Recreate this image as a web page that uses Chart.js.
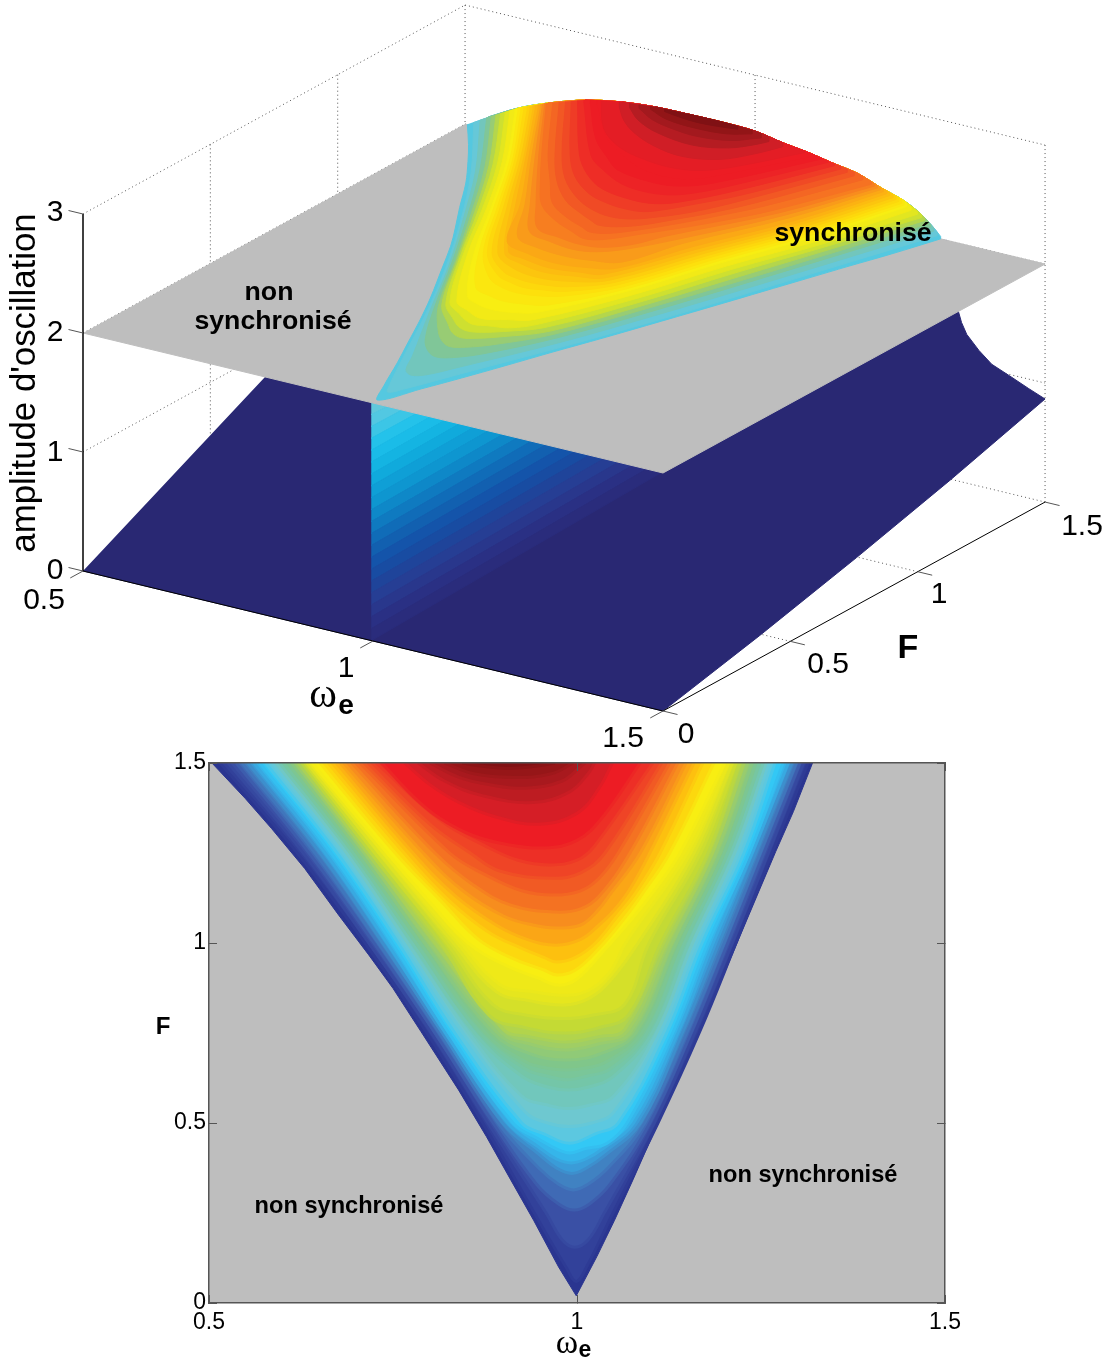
<!DOCTYPE html>
<html>
<head>
<meta charset="utf-8">
<style>
  html, body { margin: 0; padding: 0; background: #fff; }
  canvas { position: absolute; left: 0; display: block; }
  #surfaceChart { top: 0; }
  #mapChart { top: 745px; }
</style>
<script src="https://cdn.jsdelivr.net/npm/chart.js@4/dist/chart.umd.min.js"></script>
</head>
<body>
<canvas id="surfaceChart" width="1110" height="757"></canvas>
<canvas id="mapChart" width="1110" height="616"></canvas>
<script>
const omegaTicks = [0.5, 1, 1.5];
const forceTicks = [0, 0.5, 1, 1.5];
const amplitudeTicks = [0, 1, 2, 3];

// locking contours, outermost first (path: top left, down the V, top right)
const contourOmega = [
  [.504,.549,.585,.630,.676,.717,.750,.788,.839,.877,.910,.941,.975,.999,1.027,1.051,1.076,1.104,1.133,1.166,1.201,1.222,1.247,1.27,1.294,1.32],
  [.515,.620,.712,.796,.872,.942,.985,.999,1.013,1.049,1.110,1.166,1.216,1.265,1.314],
  [.526,.628,.717,.802,.879,.958,.98,.997,1.015,1.037,1.105,1.160,1.211,1.260,1.308],
  [.537,.636,.724,.807,.886,.945,.975,.996,1.017,1.045,1.099,1.155,1.205,1.254,1.303],
  [.545,.644,.730,.813,.893,.948,.975,.995,1.015,1.042,1.092,1.149,1.200,1.249,1.298],
  [.553,.651,.736,.817,.899,.95,.972,.993,1.013,1.038,1.086,1.143,1.193,1.243,1.292],
  [.561,.658,.742,.821,.906,.95,.972,.992,1.012,1.036,1.077,1.137,1.185,1.238,1.287],
  [.569,.666,.749,.826,.913,.95,.972,.990,1.01,1.041,1.068,1.130,1.178,1.234,1.280],
  [.577,.674,.757,.834,.925,.955,.990,1.025,1.056,1.122,1.170,1.227,1.269],
  [.586,.682,.765,.845,.93,.96,.989,1.02,1.05,1.113,1.162,1.219,1.261],
  [.591,.687,.770,.853,.925,.96,.988,1.018,1.05,1.108,1.157,1.214,1.257],
  [.596,.692,.776,.861,.925,.96,.988,1.016,1.05,1.102,1.152,1.209,1.253],
  [.601,.696,.781,.868,.93,.96,.987,1.013,1.045,1.095,1.146,1.205,1.248],
  [.607,.701,.787,.876,.93,.96,.986,1.01,1.04,1.088,1.141,1.200,1.243],
  [.612,.706,.793,.886,.933,.985,1.035,1.08,1.135,1.195,1.238],
  [.617,.711,.800,.898,.935,.985,1.03,1.072,1.129,1.189,1.232],
  [.621,.715,.807,.90,.935,.985,1.03,1.065,1.122,1.184,1.227],
  [.626,.720,.815,.88,.93,.984,1.03,1.07,1.114,1.178,1.221],
  [.63,.725,.823,.885,.93,.983,1.022,1.065,1.098,1.168,1.216],
  [.633,.731,.832,.89,.935,.982,1.015,1.045,1.083,1.159,1.211],
  [.637,.737,.842,.895,.94,.981,1.015,1.045,1.066,1.15,1.206],
  [.640,.742,.803,.852,.902,.947,.975,1.0,1.035,1.076,1.103,1.140,1.201],
  [.651,.753,.816,.866,.915,.955,.973,.998,1.03,1.065,1.09,1.126,1.186],
  [.662,.765,.825,.88,.925,.955,.972,.998,1.025,1.055,1.08,1.113,1.171],
  [.673,.777,.835,.89,.932,.972,1.005,1.03,1.05,1.072,1.099,1.159],
  [.683,.791,.845,.90,.94,.972,1.005,1.028,1.045,1.086,1.148],
  [.694,.807,.86,.91,.97,1.005,1.03,1.072,1.137],
  [.705,.827,.875,.925,.968,1.005,1.03,1.056,1.126],
  [.716,.80,.855,.895,.966,1.005,1.038,1.115],
  [.727,.815,.875,.92,.963,1.0,1.024,1.103],
  [.735,.776,.811,.857,.902,.955,1.0,1.035,1.086],
  [.766,.80,.84,.89,.948,1.0,1.03,1.048],
  [.784,.82,.87,.94,.99,1.015,1.024],
  [.80,.84,.88,.93,.98,1.005,1.011],
  [.82,.86,.915,.965,.995],
  [.844,.875,.905,.94,.97]
];
const contourForce = [
  [1.5,1.402,1.318,1.207,1.078,.967,.874,.754,.592,.462,.342,.23,.10,.02,.129,.23,.342,.472,.60,.754,.92,1.022,1.143,1.254,1.365,1.5],
  [1.5,1.25,1,.75,.5,.25,.1,.06,.1,.25,.5,.75,1,1.25,1.5],
  [1.5,1.25,1,.75,.5,.25,.175,.155,.175,.25,.5,.75,1,1.25,1.5],
  [1.5,1.25,1,.75,.5,.33,.275,.258,.275,.33,.5,.75,1,1.25,1.5],
  [1.5,1.25,1,.75,.5,.375,.33,.314,.33,.375,.5,.75,1,1.25,1.5],
  [1.5,1.25,1,.75,.5,.41,.375,.36,.375,.41,.5,.75,1,1.25,1.5],
  [1.5,1.25,1,.75,.5,.43,.4,.389,.4,.43,.5,.75,1,1.25,1.5],
  [1.5,1.25,1,.75,.5,.453,.428,.417,.428,.444,.5,.75,1,1.25,1.5],
  [1.5,1.25,1,.75,.5,.47,.444,.47,.5,.75,1,1.25,1.5],
  [1.5,1.25,1,.75,.53,.5,.49,.5,.53,.75,1,1.25,1.5],
  [1.5,1.25,1,.75,.575,.55,.54,.55,.575,.75,1,1.25,1.5],
  [1.5,1.25,1,.75,.63,.6,.592,.6,.63,.75,1,1.25,1.5],
  [1.5,1.25,1,.75,.65,.63,.62,.63,.65,.75,1,1.25,1.5],
  [1.5,1.25,1,.75,.67,.652,.647,.652,.67,.75,1,1.25,1.5],
  [1.5,1.25,1,.75,.695,.675,.695,.75,1,1.25,1.5],
  [1.5,1.25,1,.75,.72,.703,.72,.75,1,1.25,1.5],
  [1.5,1.25,1,.76,.74,.725,.74,.76,1,1.25,1.5],
  [1.5,1.25,1,.8,.765,.75,.765,.8,1,1.25,1.5],
  [1.5,1.25,1,.83,.80,.79,.80,.83,1,1.25,1.5],
  [1.5,1.25,1,.865,.84,.828,.845,.895,1,1.25,1.5],
  [1.5,1.25,1,.885,.865,.855,.868,.92,1,1.25,1.5],
  [1.5,1.25,1.106,1,.939,.903,.883,.9,.975,1.07,1.14,1.25,1.5],
  [1.5,1.25,1.115,1.01,.955,.925,.911,.925,.985,1.07,1.14,1.25,1.5],
  [1.5,1.25,1.12,1.03,.985,.96,.947,.96,1,1.075,1.14,1.25,1.5],
  [1.5,1.25,1.13,1.05,1.01,.994,1.01,1.05,1.09,1.15,1.25,1.5],
  [1.5,1.25,1.145,1.075,1.05,1.042,1.05,1.09,1.135,1.25,1.5],
  [1.5,1.25,1.16,1.105,1.086,1.095,1.13,1.25,1.5],
  [1.5,1.25,1.19,1.145,1.133,1.145,1.18,1.25,1.5],
  [1.5,1.33,1.25,1.2,1.18,1.195,1.25,1.5],
  [1.5,1.34,1.27,1.23,1.217,1.23,1.27,1.5],
  [1.5,1.41,1.35,1.30,1.275,1.264,1.285,1.35,1.5],
  [1.5,1.44,1.39,1.35,1.33,1.36,1.43,1.5],
  [1.5,1.45,1.41,1.39,1.42,1.47,1.5],
  [1.5,1.46,1.44,1.43,1.45,1.49,1.5],
  [1.5,1.47,1.46,1.47,1.5],
  [1.5,1.49,1.485,1.49,1.5]
];
// amplitude of each contour on the upper surface
const contourAmplitude = [2.0,2.02,2.05,2.08,2.10,2.12,2.14,2.16,2.18,2.20,2.21,2.22,2.23,2.24,2.25,2.26,2.27,2.28,2.29,2.30,2.31,2.32,2.34,2.355,2.37,2.385,2.40,2.415,2.43,2.44,2.45,2.455,2.47,2.485,2.50,2.51];
const mapColors = ['#2a3590','#32419a','#3a50a5','#3f6ab5','#4082c2','#3a9cd8','#35b5ea','#33c8f5','#5cc8e0','#6ec8d0','#71c7bc','#74c6a8','#7ac699','#80c68a','#90ca77','#a0ce64','#b2d44c','#c4da34','#d5e029','#e6e61e','#efe918','#f8ee12','#fcd80e','#fdc00f','#fba616','#f78d1e','#f47222','#f15a24','#ef4426','#ed2f26','#ed1c24','#d51e26','#bd1c22','#a8191e','#961618','#801114'];
const surfaceColors = ['#55c8e0','#66c8d8','#72c6bc','#80c698','#98cc74','#b4d64c','#cee030','#e2e620','#f2ea16','#f8ee12','#fbe70f','#fde00c','#fdd80c','#fdcf0d','#fcc50e','#fcbc10','#fcb212','#fba815','#f99b1a','#f88c1e','#f77e20','#f67222','#f46623','#f25824','#f04a25','#ef3c26','#ee2d26','#ed2326','#ed1c24','#ed1c24','#e41d25','#d01e26','#b51c22','#a3191e','#921517','#801114'];

// top edge of the synchronised surface, at F = 1.5
const edgeOmega = [.503,.54,.591,.643,.707,.771,.828,.884,.943,1.0,1.048,1.09,1.134,1.176,1.216,1.255,1.284,1.307,1.324];
const edgeAmplitude = [2,2.106,2.241,2.345,2.445,2.504,2.53,2.536,2.538,2.529,2.487,2.459,2.418,2.383,2.311,2.25,2.175,2.084,2];

// lower (dark) surface outline, part of it hidden behind the plane
const lowerOmega = [.5,1.5,1.5,1.5,1.5,1.5,1.472,1.443,1.408,1.386,1.365,1.356,1.351,1.33,.5];
const lowerForce = [0,0,.38,.76,1.127,1.5,1.5,1.5,1.5,1.5,1.5,1.5,1.5,1.5,.72];
const lowerAmplitude = [0,0,.19,.40,.62,.866,.92,.98,1.05,1.14,1.25,1.34,1.42,2,.8];

// ramp under the plane: amplitude on the wall at omega = 1, and where that band meets the plane's front edge
const rampAmplitude = [2,1.9,1.8,1.7,1.6,1.5,1.4,1.3,1.2,1.1,1,.9,.8,.7,.6,.5,.4,.3,.2,.1,0];
const rampEndOmega = [1,1.025,1.05,1.075,1.099,1.124,1.149,1.174,1.199,1.224,1.249,1.273,1.298,1.323,1.348,1.373,1.398,1.423,1.447,1.472,1.497];
const rampColors = ['#60c8dc','#52c8e2','#3cc6e6','#24c2ea','#1abce8','#14b4e2','#10aadc','#0f9fd6','#0e96d0','#0e88c8','#0f7ac0','#106cb8','#1260b0','#1454aa','#184ca2','#1f449a','#263e94','#29378c','#2a3084','#2a2c7c'];
const wallOmega = 0.997;

const planeOmega = [.5,1.5,1.5,.5];
const planeForce = [0,0,1.5,1.5];
const planeAmplitude = 2;

const GREY = '#bebebe';
const NAVY = '#292873';
const SANS = '"Liberation Sans", Arial, sans-serif';

Chart.defaults.font.family = SANS;

// fixed oblique view of the box
function view(w, f, a) {
  return {
    x: 83 + 580 * (w - 0.5) + 254.7 * f,
    y: 571 + 140 * (w - 0.5) - 139.3 * f - 119 * a,
  };
}

// height of the top edge where a contour runs into it
function edgeHeightAt(w) {
  let k = 1;
  while (k < edgeOmega.length - 1 && edgeOmega[k] < w) k++;
  const t = (w - edgeOmega[k - 1]) / (edgeOmega[k] - edgeOmega[k - 1]);
  return edgeAmplitude[k - 1] + t * (edgeAmplitude[k] - edgeAmplitude[k - 1]);
}

function mix(a, b) {
  const ch = (h, i) => parseInt(h.slice(1 + i * 2, 3 + i * 2), 16);
  return 'rgb(' + [0, 1, 2].map(i => Math.round((ch(a, i) + ch(b, i)) / 2)).join(',') + ')';
}

function shape(data, color, tension = 0, border = color, width = 1) {
  return {
    data, showLine: true, fill: 'shape', pointRadius: 0, tension,
    backgroundColor: color, borderColor: border, borderWidth: width, borderJoinStyle: 'round',
  };
}

function stroke(data, color, width, dash) {
  return {
    data, showLine: true, fill: false, pointRadius: 0,
    borderColor: color, borderWidth: width, borderDash: dash || [],
  };
}

const textPlugin = {
  id: 'texts',
  afterDatasetsDraw(chart, args, opts) {
    const { ctx } = chart;
    for (const t of opts.items) {
      ctx.save();
      ctx.translate(t.x, t.y);
      if (t.rot) ctx.rotate(t.rot);
      ctx.font = t.font;
      ctx.fillStyle = t.color || '#000';
      ctx.textAlign = t.align || 'center';
      ctx.textBaseline = 'middle';
      ctx.fillText(t.text, 0, 0);
      ctx.restore();
    }
  },
};

function buildSurfaceDatasets() {
  const layers = [];
  const dotted = [1, 3];
  const gridColor = '#555';

  // box grid, behind everything
  for (const f of forceTicks.slice(1)) {
    layers.push(stroke([view(.5, f, 0), view(1.5, f, 0)], gridColor, 1, dotted));
    layers.push(stroke([view(.5, f, 0), view(.5, f, 3)], gridColor, 1, dotted));
  }
  layers.push(stroke([view(1, 0, 0), view(1, 1.5, 0)], gridColor, 1, dotted));
  for (const a of amplitudeTicks.slice(1)) {
    layers.push(stroke([view(.5, 0, a), view(.5, 1.5, a)], gridColor, 1, dotted));
    layers.push(stroke([view(.5, 1.5, a), view(1.5, 1.5, a)], gridColor, 1, dotted));
  }
  for (const w of omegaTicks.slice(1)) {
    layers.push(stroke([view(w, 1.5, 0), view(w, 1.5, 3)], gridColor, 1, dotted));
  }

  // lower surface
  layers.push(shape(lowerOmega.map((w, i) => view(w, lowerForce[i], lowerAmplitude[i])), NAVY));

  // ramp below the plane
  rampColors.forEach((c, i) => {
    layers.push(shape([
      view(wallOmega, 0, rampAmplitude[i]),
      view(rampEndOmega[i], 0, planeAmplitude),
      view(rampEndOmega[i + 1], 0, planeAmplitude),
      view(wallOmega, 0, rampAmplitude[i + 1]),
    ], c));
  });

  // grey plane
  layers.push(shape(planeOmega.map((w, i) => view(w, planeForce[i], planeAmplitude)), GREY));

  // synchronised surface; corners doubled so the curve does not bulge past the top edge
  contourOmega.forEach((line, i) => {
    const first = line[0];
    const last = line[line.length - 1];
    const pts = line.map((w, k) => view(w, contourForce[i][k], contourAmplitude[i]));
    const startTop = view(first, 1.5, edgeHeightAt(first));
    const endTop = view(last, 1.5, edgeHeightAt(last));
    pts.unshift(startTop, startTop, pts[0]);
    pts.push(pts[pts.length - 1], endTop, endTop);
    for (let k = edgeOmega.length - 1; k >= 0; k--) {
      if (edgeOmega[k] > first && edgeOmega[k] < last) {
        pts.push(view(edgeOmega[k], 1.5, edgeAmplitude[k]));
      }
    }
    layers.push(shape(pts, surfaceColors[i], 0.35));
  });

  // axes and tick marks
  layers.push(stroke([view(.5, 0, 0), view(1.5, 0, 0)], '#000', 1));
  layers.push(stroke([view(1.5, 0, 0), view(1.5, 1.5, 0)], '#000', 1));
  layers.push(stroke([view(.5, 0, 0), view(.5, 0, 3)], '#000', 1.5));
  for (const a of amplitudeTicks) {
    layers.push(stroke([view(.5, 0, a), view(.475, 0, a)], '#555', 1));
  }
  for (const w of omegaTicks) {
    layers.push(stroke([view(w, 0, 0), view(w, -0.05, 0)], '#555', 1));
  }
  for (const f of forceTicks) {
    layers.push(stroke([view(1.5, f, 0), view(1.525, f, 0)], '#555', 1));
  }
  return layers.reverse();
}

function buildMapDatasets() {
  const layers = [shape(planeOmega.map((w, i) => ({ x: w, y: planeForce[i] })), GREY)];
  contourOmega.forEach((line, i) => {
    const pts = line.map((w, k) => ({ x: w, y: contourForce[i][k] }));
    const ring = i === 0 ? mapColors[0] : mix(mapColors[i - 1], mapColors[i]);
    layers.push(shape(pts, mapColors[i], i === 0 ? 0 : 0.4, ring, i === 0 ? 1 : 3));
  });
  return layers.reverse();
}

const tickFontTop = '30px ' + SANS;
const boldTop = 'bold 26.7px ' + SANS;

new Chart(document.getElementById('surfaceChart'), {
  type: 'scatter',
  data: { datasets: buildSurfaceDatasets() },
  options: {
    responsive: false,
    animation: false,
    layout: { padding: 0 },
    scales: {
      x: { type: 'linear', display: false, min: 0, max: 1110 },
      y: { type: 'linear', display: false, min: 0, max: 757, reverse: true },
    },
    plugins: {
      legend: { display: false },
      tooltip: { enabled: false },
      texts: {
        items: [
          { text: '3', x: 55, y: 213, font: tickFontTop },
          { text: '2', x: 55, y: 333, font: tickFontTop },
          { text: '1', x: 55, y: 453, font: tickFontTop },
          { text: '0', x: 55, y: 571, font: tickFontTop },
          { text: '0.5', x: 44, y: 601, font: tickFontTop },
          { text: '1', x: 346, y: 669, font: tickFontTop },
          { text: '1.5', x: 623, y: 739, font: tickFontTop },
          { text: '0', x: 686, y: 735, font: tickFontTop },
          { text: '0.5', x: 828, y: 665, font: tickFontTop },
          { text: '1', x: 939, y: 595, font: tickFontTop },
          { text: '1.5', x: 1082, y: 527, font: tickFontTop },
          { text: 'F', x: 908, y: 649, font: 'bold 34px ' + SANS },
          { text: 'ω', x: 323, y: 696, font: '42px "Liberation Serif", serif' },
          { text: 'e', x: 346, y: 706, font: 'bold 28px ' + SANS },
          { text: "amplitude d'oscillation", x: 25, y: 383, rot: -Math.PI / 2, font: '34.8px ' + SANS },
          { text: 'non', x: 269, y: 293, font: boldTop },
          { text: 'synchronisé', x: 273, y: 322, font: boldTop },
          { text: 'synchronisé', x: 853, y: 234, font: boldTop },
        ],
      },
    },
  },
  plugins: [textPlugin],
});

const AXIS_GREY = '#555';
const inwardTicks = {
  drawOnChartArea: false, drawTicks: true, tickLength: -8, tickColor: AXIS_GREY, tickWidth: 1, z: 1,
};
const axisBorder = { display: true, color: AXIS_GREY, width: 1.5, z: 1 };
const tickFontMap = { size: 23 };

function noOverhang(s) {
  s.paddingTop = 0;
  s.paddingBottom = 0;
  s.paddingLeft = 0;
  s.paddingRight = 0;
}

new Chart(document.getElementById('mapChart'), {
  type: 'scatter',
  data: { datasets: buildMapDatasets() },
  options: {
    responsive: false,
    animation: false,
    layout: { padding: { top: 18, right: 165, left: 0, bottom: 0 } },
    scales: {
      x: {
        type: 'linear', position: 'bottom', min: .5, max: 1.5,
        afterBuildTicks: s => { s.ticks = omegaTicks.map(value => ({ value })); },
        afterFit: s => { s.height = 58; noOverhang(s); },
        grid: inwardTicks, border: axisBorder,
        ticks: { color: '#000', font: tickFontMap, padding: 14, maxRotation: 0, callback: v => String(v) },
      },
      y: {
        type: 'linear', position: 'left', min: 0, max: 1.5,
        afterBuildTicks: s => { s.ticks = forceTicks.map(value => ({ value })); },
        afterFit: s => { s.width = 209; noOverhang(s); },
        grid: inwardTicks, border: axisBorder,
        ticks: { color: '#000', font: tickFontMap, padding: 11, callback: v => String(v) },
      },
      xTop: {
        type: 'linear', position: 'top', min: .5, max: 1.5,
        afterBuildTicks: s => { s.ticks = omegaTicks.map(value => ({ value })); },
        afterFit: s => { s.height = 0; noOverhang(s); },
        grid: inwardTicks, border: axisBorder, ticks: { display: false },
      },
      yRight: {
        type: 'linear', position: 'right', min: 0, max: 1.5,
        afterBuildTicks: s => { s.ticks = forceTicks.map(value => ({ value })); },
        afterFit: s => { s.width = 0; noOverhang(s); },
        grid: inwardTicks, border: axisBorder, ticks: { display: false },
      },
    },
    plugins: {
      legend: { display: false },
      tooltip: { enabled: false },
      texts: {
        items: [
          { text: 'non synchronisé', x: 349, y: 461, font: 'bold 23.6px ' + SANS },
          { text: 'non synchronisé', x: 803, y: 430, font: 'bold 23.6px ' + SANS },
          { text: 'F', x: 163, y: 282, font: 'bold 24px ' + SANS },
          { text: 'ω', x: 567, y: 599, font: '34px "Liberation Serif", serif' },
          { text: 'e', x: 585, y: 606, font: 'bold 23px ' + SANS },
        ],
      },
    },
  },
  plugins: [textPlugin],
});
</script>
</body>
</html>
